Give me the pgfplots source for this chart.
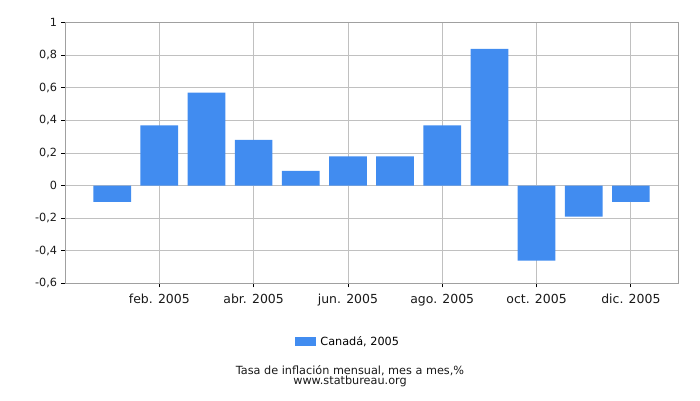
\documentclass[border=0pt]{standalone}
\usepackage{pgfplots}
\pgfplotsset{compat=1.18}
\usepackage{fontspec}
\setmainfont{DejaVu Sans}
\definecolor{barblue}{HTML}{418CF0}
\definecolor{gridgray}{HTML}{C0C0C0}
\definecolor{axgray}{HTML}{A0A0A0}
\begin{document}
\fontsize{11.3}{13}\selectfont
\begin{tikzpicture}[x=1bp,y=1bp]
\path[use as bounding box] (0,0) rectangle (700,400);
\begin{axis}[
  at={(65bp,116.7bp)}, anchor=south west,
  scale only axis, width=613bp, height=260.6bp,
  xmin=0, xmax=13, ymin=-0.6, ymax=1,
  xtick={2,4,6,8,10,12},
  xticklabels={feb. 2005,abr. 2005,jun. 2005,ago. 2005,oct. 2005,dic. 2005},
  ytick={-0.6,-0.4,...,1.0},
  yticklabel style={/pgf/number format/.cd,fixed,precision=1,use comma,assume math mode=true},
  xmajorgrids, ymajorgrids,
  grid style={gridgray, line width=0.8pt},
  axis line style={axgray, line width=0.8pt},
  tick style={black, line width=0.8pt},
  tick align=outside, major tick length=4bp,
  xtick pos=bottom, ytick pos=left,
  tick label style={font=\fontsize{11.3}{13}\selectfont, text=black!90},
  xticklabel style={yshift=-3bp, font=\fontsize{12.5}{14}\selectfont},
  ybar, bar width=0.8,
  legend style={at={(0.462,-0.187)}, anchor=north, draw=none, font=\fontsize{11.3}{13}\selectfont, legend columns=1},
  legend image code/.code={\fill[barblue] (0,-4bp) rectangle (21bp,5bp);},
  legend cell align=left,
]
\addplot[fill=barblue, draw=none] coordinates {
(1,-0.1) (2,0.37) (3,0.57) (4,0.28) (5,0.09) (6,0.18)
(7,0.18) (8,0.37) (9,0.84) (10,-0.46) (11,-0.19) (12,-0.1)};
\addlegendentry{\hspace{2bp}Canadá, 2005}
\end{axis}
\node[font=\fontsize{11.3}{13}\selectfont, text=black!90] at (350,29) {Tasa de inflación mensual, mes a mes,\%};
\node[font=\fontsize{11.3}{13}\selectfont, text=black!90] at (350,18.5) {www.statbureau.org};
\end{tikzpicture}
\end{document}
